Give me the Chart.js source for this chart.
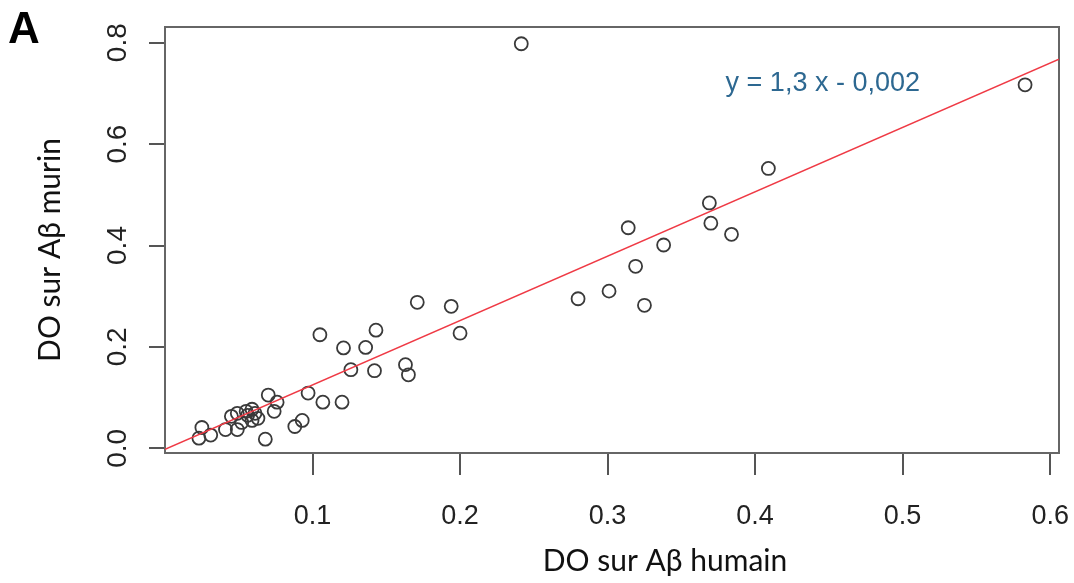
<!DOCTYPE html>
<html>
<head>
<meta charset="utf-8">
<script src="https://cdn.jsdelivr.net/npm/chart.js@4/dist/chart.umd.min.js"></script>
<style>
  html, body { margin: 0; padding: 0; background: #fff; }
  #wrap { width: 1074px; height: 583px; }
</style>
</head>
<body>
<div id="wrap"><canvas id="chart" width="1074" height="583"></canvas></div>
<script>
// --- Data ---
const humanOD = [
  0.2415, 0.583, 0.409, 0.369, 0.370, 0.384, 0.314, 0.338, 0.319, 0.280,
  0.301, 0.325, 0.171, 0.194, 0.200, 0.105, 0.143, 0.121, 0.136, 0.126,
  0.142, 0.163, 0.165,
  0.023, 0.025, 0.031, 0.041, 0.045, 0.049, 0.049, 0.052, 0.055, 0.056,
  0.059, 0.059, 0.061, 0.063, 0.068, 0.070, 0.074, 0.076, 0.088, 0.093,
  0.097, 0.107, 0.120
];
const murineOD = [
  0.798, 0.717, 0.552, 0.484, 0.444, 0.422, 0.435, 0.401, 0.359, 0.295,
  0.310, 0.282, 0.288, 0.280, 0.227, 0.224, 0.233, 0.198, 0.199, 0.155,
  0.153, 0.165, 0.145,
  0.020, 0.041, 0.026, 0.037, 0.063, 0.069, 0.037, 0.051, 0.073, 0.065,
  0.077, 0.055, 0.069, 0.059, 0.018, 0.105, 0.073, 0.091, 0.043, 0.055,
  0.109, 0.091, 0.091
];
const xTicks = [0.1, 0.2, 0.3, 0.4, 0.5, 0.6];
const yTicks = [0.0, 0.2, 0.4, 0.6, 0.8];

// fit line y = 1,3 x - 0,002 (drawn slope)
const FIT_SLOPE     = 1.27;
const FIT_INTERCEPT = -0.002;
const FIT_LABEL     = 'y = 1,3 x - 0,002';

const X_MIN = 0, X_MAX = 0.606;
const Y_MIN = -0.0093, Y_MAX = 0.831;

const points  = humanOD.map((x, i) => ({ x, y: murineOD[i] }));
const fitLine = [X_MIN, X_MAX].map(x => ({ x, y: FIT_SLOPE * x + FIT_INTERCEPT }));

// --- Extra drawing: box, titles, panel letter, equation ---
const decorations = {
  id: 'decorations',
  beforeDatasetsDraw(chart) {
    const { ctx, chartArea: a } = chart;
    ctx.save();
    ctx.strokeStyle = '#666';
    ctx.lineWidth = 2;
    ctx.strokeRect(a.left, a.top, a.right - a.left, a.bottom - a.top);
    ctx.restore();
  },
  afterDraw(chart) {
    const { ctx, scales } = chart;
    ctx.save();
    ctx.fillStyle = '#111';
    ctx.textAlign = 'center';
    ctx.textBaseline = 'middle';
    ctx.font = '30px Lato';
    ctx.fillText('DO sur A\u03b2 humain', 665, 561);

    ctx.translate(50, 250);
    ctx.rotate(-Math.PI / 2);
    ctx.fillText('DO sur A\u03b2 murin', 0, 0);
    ctx.restore();

    ctx.save();
    ctx.fillStyle = '#000';
    ctx.font = 'bold 44px "Liberation Sans"';
    ctx.textBaseline = 'alphabetic';
    ctx.fillText('A', 8, 43);

    ctx.fillStyle = '#2d6891';
    ctx.font = '27px "Liberation Sans"';
    ctx.textBaseline = 'middle';
    ctx.fillText(FIT_LABEL, scales.x.getPixelForValue(0.38), scales.y.getPixelForValue(0.72));
    ctx.restore();
  }
};

// --- Chart ---
new Chart(document.getElementById('chart'), {
  type: 'scatter',
  data: {
    datasets: [
      {
        type: 'line',
        data: fitLine,
        borderColor: '#ef3a45',
        borderWidth: 1.6,
        pointRadius: 0,
        order: 0,
      },
      {
        data: points,
        pointStyle: 'circle',
        pointRadius: 6.5,
        pointBorderWidth: 1.8,
        pointBorderColor: '#3a3a3a',
        pointBackgroundColor: 'rgba(0,0,0,0)',
        order: 1,
      }
    ]
  },
  options: {
    responsive: false,
    animation: false,
    layout: { padding: { top: 27, right: 15, left: 0, bottom: 0 } },
    plugins: { legend: { display: false }, tooltip: { enabled: false } },
    scales: {
      x: {
        type: 'linear',
        min: X_MIN,
        max: X_MAX,
        afterBuildTicks: s => { s.ticks = xTicks.map(v => ({ value: v })); },
        afterFit: s => { s.height = 130; s.paddingLeft = 0; s.paddingRight = 0; },
        grid: { drawOnChartArea: false, color: '#555', lineWidth: 2, tickLength: 22 },
        border: { display: false },
        ticks: {
          autoSkip: false,
          maxRotation: 0,
          color: '#222',
          padding: 25,
          font: { family: 'Liberation Sans', size: 27 },
          callback: v => v.toFixed(1),
        }
      },
      y: {
        type: 'linear',
        min: Y_MIN,
        max: Y_MAX,
        afterBuildTicks: s => { s.ticks = yTicks.map(v => ({ value: v })); },
        afterFit: s => { s.width = 165; s.paddingTop = 0; s.paddingBottom = 0; },
        grid: { drawOnChartArea: false, color: '#555', lineWidth: 2, tickLength: 16 },
        border: { display: false },
        ticks: {
          autoSkip: false,
          minRotation: 90,
          maxRotation: 90,
          crossAlign: 'center',
          color: '#222',
          padding: 11,
          font: { family: 'Liberation Sans', size: 28 },
          callback: v => v.toFixed(1),
        }
      }
    }
  },
  plugins: [decorations]
});
</script>
</body>
</html>
